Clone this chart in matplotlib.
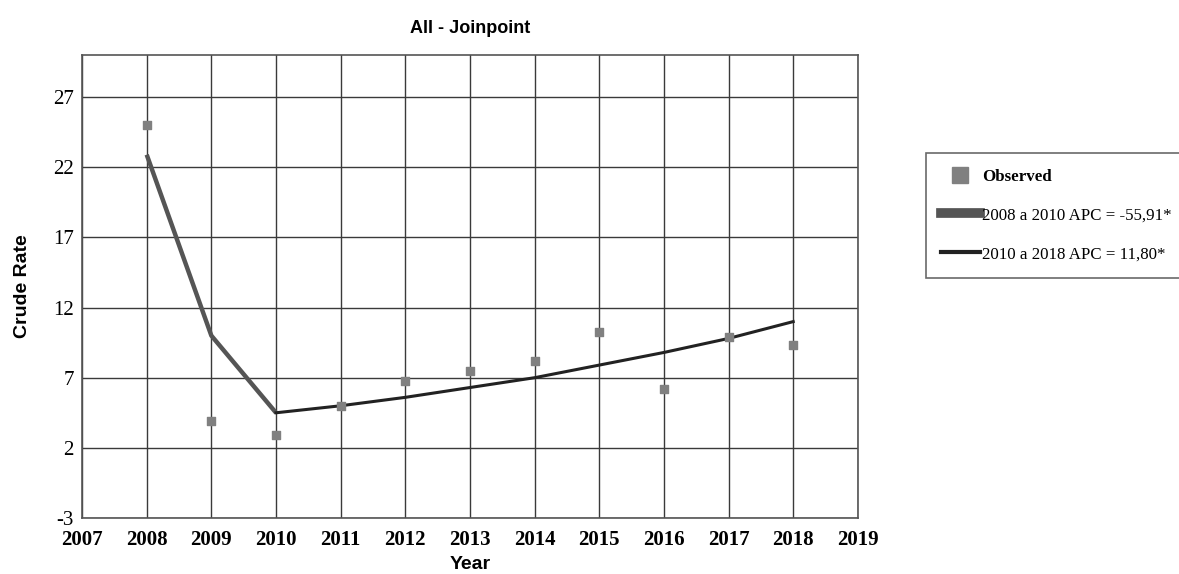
import matplotlib.pyplot as plt
from matplotlib.lines import Line2D

# dados observados
years = [2008, 2009, 2010, 2011, 2012, 2013, 2014, 2015, 2016, 2017, 2018]
observed = [25.0, 3.9, 2.9, 5.0, 6.8, 7.5, 8.2, 10.25, 6.2, 9.9, 9.3]

# segmentos do joinpoint
seg1_years = [2008, 2009, 2010]
seg1_rate = [22.9, 10.0, 4.5]
seg2_years = [2010, 2011, 2012, 2013, 2014, 2015, 2016, 2017, 2018]
seg2_rate = [4.5, 5.0, 5.6, 6.3, 7.0, 7.9, 8.8, 9.8, 11.0]

xticks = list(range(2007, 2020))
yticks = [-3, 2, 7, 12, 17, 22, 27]

fig = plt.figure(figsize=(11.79, 5.74), dpi=100)
ax = fig.add_axes([0.0696, 0.0976, 0.658, 0.8064])

ax.plot(seg1_years, seg1_rate, color='#555555', lw=3.2, solid_capstyle='butt', zorder=3)
ax.plot(seg2_years, seg2_rate, color='#222222', lw=2.2, zorder=3)
ax.scatter(years, observed, marker='s', s=36, color='#808080', zorder=4)

ax.set_xlim(2007, 2019)
ax.set_ylim(-3, 30)
ax.set_xticks(xticks)
ax.set_yticks(yticks)
ax.set_xticklabels([str(x) for x in xticks], fontfamily='Liberation Serif',
                   fontweight='bold', fontsize=15)
ax.set_yticklabels([str(y) for y in yticks], fontfamily='Liberation Serif', fontsize=15)
ax.tick_params(axis='x', length=0, pad=9)
ax.tick_params(axis='y', length=0, pad=6)
ax.grid(True, color='#3a3a3a', lw=1.0)
for s in ax.spines.values():
    s.set_color('#555555')
    s.set_linewidth(1.2)

ax.set_title('All - Joinpoint', fontfamily='Liberation Sans', fontweight='bold',
             fontsize=13, pad=16)
ax.set_xlabel('Year', fontfamily='Liberation Sans', fontweight='bold', fontsize=14, labelpad=4)
ax.set_ylabel('Crude Rate', fontfamily='Liberation Sans', fontweight='bold', fontsize=14, labelpad=16)

handles = [
    Line2D([], [], marker='s', ls='', color='#808080', markersize=11),
    Line2D([], [], color='#555555', lw=7),
    Line2D([], [], color='#222222', lw=3),
]
labels = ['Observed', '2008 a 2010 APC = -55,91*', '2010 a 2018 APC = 11,80*']
leg = fig.legend(handles, labels, loc='upper left', bbox_to_anchor=(0.785, 0.733),
                 prop={'family': 'Liberation Serif', 'size': 12.2}, frameon=True,
                 fancybox=False, edgecolor='#444444', handlelength=2.3,
                 handletextpad=0.15, labelspacing=1.35, borderpad=0.9, borderaxespad=0)
leg.get_frame().set_linewidth(1.2)
leg.get_texts()[0].set_fontweight('bold')

fig.savefig('out.png', dpi=100)
